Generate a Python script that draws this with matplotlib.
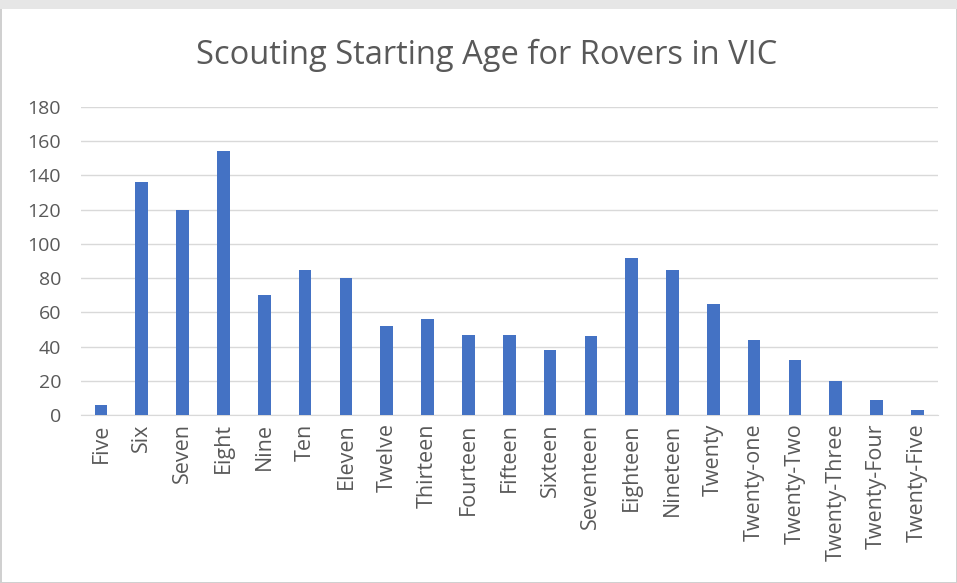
import matplotlib.pyplot as plt
from matplotlib.patches import Rectangle

# -----------------------------
# Data
# -----------------------------
ages = ["Five", "Six", "Seven", "Eight", "Nine", "Ten", "Eleven", "Twelve",
        "Thirteen", "Fourteen", "Fifteen", "Sixteen", "Seventeen", "Eighteen",
        "Nineteen", "Twenty", "Twenty-one", "Twenty-Two", "Twenty-Three",
        "Twenty-Four", "Twenty-Five"]
counts = [6, 136, 120, 154, 70, 85, 80, 52, 56, 47, 47, 38, 46, 92, 85,
          65, 44, 32, 20, 9, 3]
y_ticks = [0, 20, 40, 60, 80, 100, 120, 140, 160, 180]

plt.rcParams["font.family"] = ["Open Sans", "DejaVu Sans"]
text_color = "#595959"

# -----------------------------
# Bar Chart
# -----------------------------
fig = plt.figure(figsize=(9.57, 5.83), dpi=100)
fig.patch.set_facecolor("white")
fig.patch.set_edgecolor("#d0d0d0")
fig.patch.set_linewidth(2)
# grey strip along the top edge
fig.patches.append(Rectangle((0, 0.985), 1, 0.015, transform=fig.transFigure,
                             facecolor="#e6e6e6", edgecolor="none", zorder=0))

ax = fig.add_axes([0.0842, 0.288, 0.8958, 0.5285])
ax.set_zorder(2)
ax.patch.set_alpha(0)
ax.bar(range(len(ages)), counts, width=0.31, color="#4472C4", zorder=3)

ax.set_xlim(-0.5, len(ages) - 0.5)
ax.set_ylim(0, 180)
ax.set_yticks(y_ticks)
ax.set_xticks(range(len(ages)))
ax.set_xticklabels(ages, rotation=90, fontsize=15.5, color=text_color)
ax.tick_params(axis="y", labelsize=14, labelcolor=text_color, length=0, pad=14)
ax.tick_params(axis="x", length=0, pad=6)

ax.grid(axis="y", color="#d9d9d9", linewidth=1, zorder=0)
for side in ["top", "right", "left"]:
    ax.spines[side].set_visible(False)
ax.spines["bottom"].set_color("#d9d9d9")

fig.text(0.509, 0.905, "Scouting Starting Age for Rovers in VIC",
         ha="center", va="center", fontsize=23.5, color=text_color)

plt.savefig("out.png", dpi=100)
